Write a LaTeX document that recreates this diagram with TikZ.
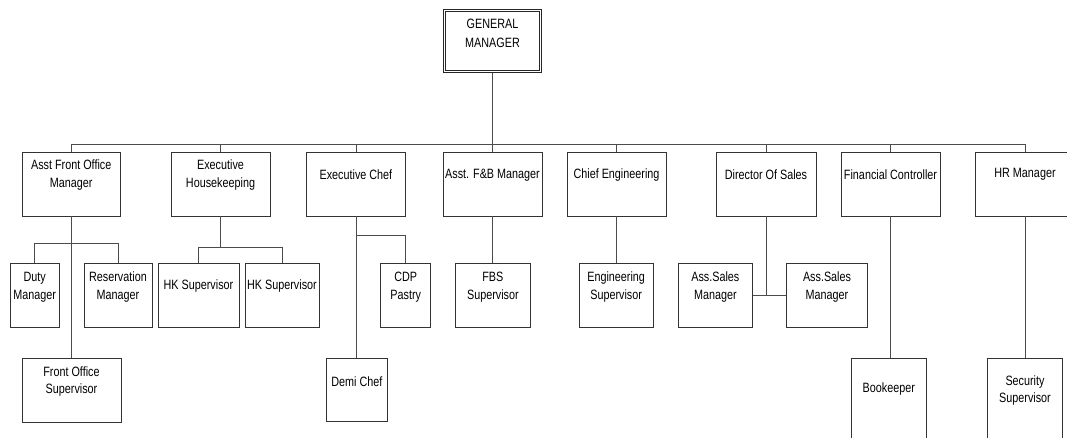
\documentclass[tikz,border=0pt]{standalone}
\usepackage{fontspec}
\newfontfamily\boxfont[FakeStretch=0.8]{Liberation Sans}
\usetikzlibrary{fit,calc}
\begin{document}
\begin{tikzpicture}[x=1pt,y=-1pt,
  box/.style={draw=black!80, line width=0.9pt, inner sep=0pt},
  txt/.style={font=\boxfont\fontsize{13.5}{17.5}\selectfont, align=center, inner sep=0pt, text=black},
  conn/.style={draw=black!70, line width=0.8pt}]
\useasboundingbox (0,0) rectangle (1067,437);
\clip (0,0) rectangle (1067,437);
\fill[white] (0,0) rectangle (1067,437);

% top
\node[box, draw=black!85, fit={(443.5,9.5) (541.5,72.5)}] (gm) {};
\draw[black!85, line width=0.7pt] ([xshift=2.6pt,yshift=-2.6pt]gm.north west) rectangle ([xshift=-2.6pt,yshift=2.6pt]gm.south east);
\node[txt, font=\boxfont\fontsize{13.5}{19}\selectfont] at ([yshift=-24pt]gm.north) {GENERAL\\MANAGER};

% level 1
\node[box, fit={(22,152.7) (120.5,216)}] (afom) {};
\node[box, fit={(171,152.7) (270,216)}] (exhk) {};
\node[box, fit={(306.5,152.7) (405.3,216)}] (chef) {};
\node[box, fit={(443,152.7) (542,216)}] (fb) {};
\node[box, fit={(567,152.7) (666,216)}] (eng) {};
\node[box, fit={(716,152.7) (816,216)}] (dir) {};
\node[box, fit={(841,152.7) (940,216)}] (fin) {};
\node[box, fit={(975,152.7) (1075,216)}] (hr) {};

\node[txt] at ([yshift=-23pt]afom.north) {Asst Front Office\\Manager};
\node[txt] at ([yshift=-23pt]exhk.north) {Executive\\Housekeeping};
\node[txt] at ([yshift=-22.5pt]chef.north) {Executive Chef};
\node[txt] at ([yshift=-22.5pt]fb.north) {Asst. F\&B Manager};
\node[txt] at ([yshift=-22.5pt]eng.north) {Chief Engineering};
\node[txt] at ([yshift=-22.5pt]dir.north) {Director Of Sales};
\node[txt] at ([yshift=-22.5pt]fin.north) {Financial Controller};
\node[txt] at ([yshift=-22.5pt]hr.north) {HR Manager};

% level 2
\node[box, fit={(10,263) (59.3,327)}] (duty) {};
\node[box, fit={(84,263) (152,327)}] (res) {};
\node[box, fit={(158,263) (239,327)}] (hka) {};
\node[box, fit={(245,263) (319,327)}] (hkb) {};
\node[box, fit={(380.7,263) (430.7,327)}] (cdp) {};
\node[box, fit={(455.7,263) (530,327)}] (fbs) {};
\node[box, fit={(579,263) (653.3,327)}] (engsup) {};
\node[box, fit={(678,263) (752.7,327)}] (asa) {};
\node[box, fit={(786.7,263) (867.3,327)}] (asb) {};

\node[txt] at ([yshift=-24.5pt]duty.north) {Duty\\Manager};
\node[txt] at ([yshift=-24.5pt]res.north) {Reservation\\Manager};
\node[txt] at ([yshift=-23pt]hka.north) {HK Supervisor};
\node[txt] at ([yshift=-23pt]hkb.north) {HK Supervisor};
\node[txt] at ([yshift=-24.5pt]cdp.north) {CDP\\Pastry};
\node[txt] at ([yshift=-24.5pt]fbs.north) {FBS\\Supervisor};
\node[txt] at ([yshift=-24.5pt]engsup.north) {Engineering\\Supervisor};
\node[txt] at ([yshift=-24.5pt]asa.north) {Ass.Sales\\Manager};
\node[txt] at ([yshift=-24.5pt]asb.north) {Ass.Sales\\Manager};

% level 3
\node[box, fit={(22,358) (121,422)}] (fos) {};
\node[box, fit={(326,358) (387.7,421)}] (demi) {};
\node[box, fit={(851.7,358) (926,452)}] (book) {};
\node[box, fit={(987.7,358) (1062.3,452)}] (sec) {};

\node[txt] at ([yshift=-24pt]fos.north) {Front Office\\Supervisor};
\node[txt] at ([yshift=-24pt]demi.north) {Demi Chef};
\node[txt] at ([yshift=-31pt]book.north) {Bookeeper};
\node[txt] at ([yshift=-33pt]sec.north) {Security\\Supervisor};

% connectors
\coordinate (bus) at (0,144);
\coordinate (afb) at (0,243);
\coordinate (hkbr) at (0,247);
\coordinate (chb) at (0,235);

\draw[conn] (gm.south) -- (gm.south |- bus);
\draw[conn] (afom.north) |- (hr.north |- bus) -- (hr.north);
\foreach \n in {exhk,chef,fb,eng,dir,fin}
  \draw[conn] (\n.north) -- (\n.north |- bus);

\draw[conn] (afom.south) -- (afom.south |- fos.north);
\draw[conn] (duty.north) |- (res.north |- afb) -- (res.north);

\draw[conn] (exhk.south) -- (exhk.south |- hkbr);
\draw[conn] (hka.north) |- (hkb.north |- hkbr) -- (hkb.north);

\draw[conn] (chef.south) -- (chef.south |- demi.north);
\draw[conn] (chef.south |- chb) -| (cdp.north);

\draw[conn] (fb.south) -- (fb.south |- fbs.north);
\draw[conn] (eng.south) -- (eng.south |- engsup.north);

\draw[conn] (dir.south) -- (dir.south |- asa.east);
\draw[conn] (asa.east) -- (asb.west);

\draw[conn] (fin.south) -- (fin.south |- book.north);
\draw[conn] (hr.south) -- (hr.south |- sec.north);
\end{tikzpicture}
\end{document}
